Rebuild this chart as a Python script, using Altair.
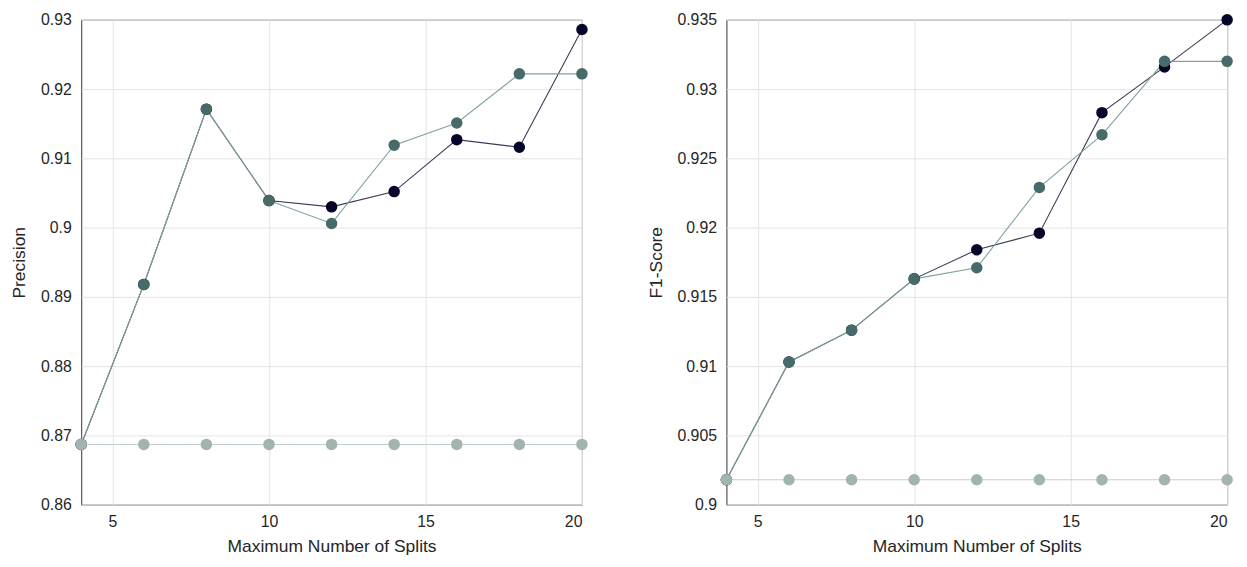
import altair as alt
import pandas as pd

splits = [4, 6, 8, 10, 12, 14, 16, 18, 20]
leaf_sizes = ["100", "1000", "5000"]

precision_100 = [0.8687, 0.8918, 0.9171, 0.9039, 0.9030, 0.9052, 0.9127, 0.9116, 0.9286]
precision_1000 = [0.8687, 0.8918, 0.9171, 0.9039, 0.9006, 0.9119, 0.9151, 0.9222, 0.9222]
precision_5000 = [0.8687, 0.8687, 0.8687, 0.8687, 0.8687, 0.8687, 0.8687, 0.8687, 0.8687]

f1_100 = [0.9018, 0.9103, 0.9126, 0.9163, 0.9184, 0.9196, 0.9283, 0.9316, 0.9350]
f1_1000 = [0.9018, 0.9103, 0.9126, 0.9163, 0.9171, 0.9229, 0.9267, 0.9320, 0.9320]
f1_5000 = [0.9018, 0.9018, 0.9018, 0.9018, 0.9018, 0.9018, 0.9018, 0.9018, 0.9018]

x_ticks = [5, 10, 15, 20]
precision_ticks = [0.86, 0.87, 0.88, 0.89, 0.9, 0.91, 0.92, 0.93]
f1_ticks = [0.9, 0.905, 0.91, 0.915, 0.92, 0.925, 0.93, 0.935]

marker_colors = ["#05052b", "#466b68", "#a2b4b1"]
line_colors = ["#3d3858", "#7ea39e", "#c2cfcd"]

FONT = "Liberation Sans"
TXT = "#262626"
W, H = 506, 490
LEGEND_SYMBOL = ("M-4.5,-0.09H4.5V0.09H-4.5Z "
                 "M1,0A1,1,0,1,1,-1,0A1,1,0,1,1,1,0Z")


def make_df(series):
    rows = []
    for leaf, vals in zip(leaf_sizes, series):
        for s, v in zip(splits, vals):
            rows.append({"splits": s, "leaf": leaf, "line_leaf": leaf, "value": v})
    return pd.DataFrame(rows)


def panel(df, ytitle, ydomain, yticks, show_legend):
    xs = alt.Scale(domain=[4, 20], nice=False, zero=False)
    ys = alt.Scale(domain=ydomain, nice=False, zero=False)
    x_axis = alt.Axis(values=x_ticks, title="Maximum Number of Splits", grid=True,
                      ticks=False, labelPadding=9, titlePadding=8)
    y_axis = alt.Axis(values=yticks, format="~g", title=ytitle, grid=True,
                      ticks=False, labelPadding=10, titlePadding=12)
    if show_legend:
        legend = alt.Legend(
            title="Minimum Leaf Size", orient="top-left", offset=22,
            titleFont=FONT, titleFontSize=16, titleFontWeight="bold", titleColor="#000000",
            titleAnchor="middle", titlePadding=11,
            labelFont=FONT, labelFontSize=16, labelColor=TXT,
            symbolType=LEGEND_SYMBOL, symbolSize=144, symbolStrokeWidth=0,
            symbolOffset=48, labelOffset=25, rowPadding=8,
            padding=7, strokeColor="#333333", fillColor="#ffffff",
        )
    else:
        legend = None
    base = alt.Chart(df)
    lines = base.mark_line(strokeWidth=1.1).encode(
        x=alt.X("splits:Q", scale=xs, axis=x_axis),
        y=alt.Y("value:Q", scale=ys, axis=y_axis),
        stroke=alt.Stroke("line_leaf:N", scale=alt.Scale(domain=leaf_sizes, range=line_colors), legend=None),
    )
    points = base.mark_point(filled=True, size=135, opacity=1, strokeWidth=0).encode(
        x=alt.X("splits:Q", scale=xs),
        y=alt.Y("value:Q", scale=ys),
        color=alt.Color("leaf:N", scale=alt.Scale(domain=leaf_sizes, range=marker_colors), legend=legend),
    )
    return alt.layer(lines, points).properties(width=W, height=H)


left = panel(make_df([precision_100, precision_1000, precision_5000]), "Precision",
             [0.86, 0.93], precision_ticks, False)
right = panel(make_df([f1_100, f1_1000, f1_5000]), "F1-Score",
              [0.9, 0.935], f1_ticks, True)

chart = alt.hconcat(left, right, spacing=58).resolve_scale(
    color="independent", stroke="independent").resolve_legend(color="independent").configure(
    padding={"left": 2, "top": 0, "right": 5, "bottom": 5},
).configure_view(
    stroke="#333333", strokeWidth=1,
).configure_axis(
    labelFont=FONT, labelFontSize=16, labelColor=TXT,
    titleFont=FONT, titleFontSize=17.6, titleFontWeight="normal", titleColor=TXT,
    gridColor="#e4e4e4", gridWidth=1, domain=False, tickColor="#333333",
)

chart.save("out.html", embed_options={"renderer": "svg", "actions": False})
